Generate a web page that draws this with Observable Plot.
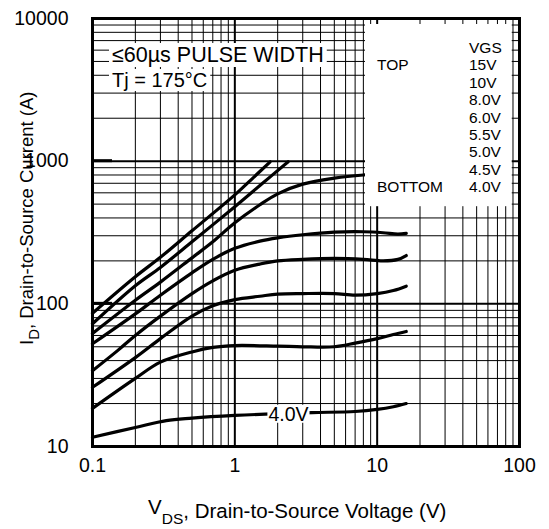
<!DOCTYPE html>
<html><head><meta charset="utf-8">
<script src="https://cdn.jsdelivr.net/npm/d3@7"></script>
<script src="https://cdn.jsdelivr.net/npm/@observablehq/plot@0.6"></script>
<style>
body{margin:0;background:#fff}
svg{font-family:"Liberation Sans",Arial,Helvetica,sans-serif}
</style>
</head><body><div id="chart"></div>
<script>
// ---- data ----
const vgsLabels = ["15V","10V","8.0V","6.0V","5.5V","5.0V","4.5V","4.0V"];
const vds_15V = [0.1,0.2,0.3,0.5,1,1.3,1.77];
const id_15V  = [86,155,212,325,580,740,990];
const vds_10V = [0.1,0.2,0.3,0.5,1,1.5,2.37];
const id_10V  = [72.5,134,180,272,480,675,990];
const vds_8V  = [0.1,0.2,0.3,0.5,0.7,1,1.5,2,3,5,8,16];
const id_8V   = [62,106,142,210,272,370,495,590,690,760,800,830];
const vds_6V  = [0.1,0.2,0.3,0.5,0.7,1,1.5,2,3,5,8,11,14,16];
const id_6V   = [52.5,85,115,165,205,245,275,290,305,318,320,315,308,312];
const vds_55V = [0.1,0.15,0.2,0.3,0.5,0.7,1,1.5,2,3,5,8,11,14,16];
const id_55V  = [34,47,60,82,118,145,172,190,200,205,208,205,200,205,218];
const vds_5V  = [0.1,0.2,0.3,0.5,0.7,1,1.5,2,3,5,7,10,13,16];
const id_5V   = [26,42,57,82,97,107,113,117,118,118,115,118,124,133];
const vds_45V = [0.1,0.2,0.3,0.5,0.7,1,2,3,5,7,10,13,16];
const id_45V  = [18.5,30,39,46,49.5,51,50.5,50,50,53,57,61,64];
const vds_4V  = [0.1,0.2,0.33,0.5,1,2,3.5,7,10,13,16];
const id_4V   = [11.6,13.6,15.2,15.8,16.5,17,17.3,17.6,18.2,19,20];

const xTicks = [0.1, 1, 10, 100];
const xTickLabels = ["0.1","1","10","100"];
const yTicks = [10, 100, 1000, 10000];
const yTickLabels = ["10","100","1000","10000"];
const curveLabel = "4.0V";
const curveLabelAt = [2.4, 17.1];

// ---- tables built from the arrays ----
const seriesList = [
  [vds_15V, id_15V],[vds_10V, id_10V],[vds_8V, id_8V],[vds_6V, id_6V],
  [vds_55V, id_55V],[vds_5V, id_5V],[vds_45V, id_45V],[vds_4V, id_4V]
];
const rows = seriesList.flatMap(([xs, ys], k) => xs.map((v, i) => ({vgs: vgsLabels[k], vds: v, id: ys[i]})));

const gridX = [], gridY = [];
for (const d of [0.1, 1, 10]) for (let m = 1; m < 10; m++) gridX.push(+(d*m).toPrecision(3));
gridX.push(100);
for (const d of [10, 100, 1000]) for (let m = 1; m < 10; m++) gridY.push(d*m);
gridY.push(10000);
const isMajor = v => Math.abs(Math.log10(v) - Math.round(Math.log10(v))) < 1e-9;

const chart = Plot.plot({
  width: 549, height: 529,
  marginLeft: 92, marginRight: 30, marginTop: 18, marginBottom: 83,
  x: {type: "log", domain: [0.1, 100], axis: null},
  y: {type: "log", domain: [10, 10000], axis: null},
  marks: [
    Plot.ruleX(gridX, {x: d => d, stroke: "#000", strokeWidth: d => isMajor(d) ? 2 : 1}),
    Plot.ruleY(gridY, {y: d => d, stroke: "#000", strokeWidth: d => isMajor(d) ? 2 : 1}),
    Plot.line(rows, {x: "vds", y: "id", z: "vgs", stroke: "#000", strokeWidth: 3.2, curve: "catmull-rom", strokeLinecap: "round"}),
    Plot.frame({stroke: "#000", strokeWidth: 3}),
    Plot.text(xTicks, {x: d => d, frameAnchor: "bottom", dy: 25, text: (d, i) => xTickLabels[i], fontSize: 19.5, fill: "#000"}),
    Plot.text(yTicks, {y: d => d, frameAnchor: "left", dx: -24, textAnchor: "end", text: (d, i) => yTickLabels[i], fontSize: 19.5, fill: "#000"})
  ]
});
document.getElementById("chart").appendChild(chart);

const svg = d3.select(chart);
const sx = chart.scale("x").apply, sy = chart.scale("y").apply;
const pLeft = sx(0.1), pRight = sx(100), pTop = sy(10000), pBottom = sy(10);

// inward major ticks on the left edge
svg.append("g").selectAll("line").data([100, 1000]).join("line")
  .attr("x1", pLeft).attr("x2", pLeft + 20).attr("y1", d => sy(d)).attr("y2", d => sy(d))
  .attr("stroke", "#000").attr("stroke-width", 3);

function boxed(g, pad) {
  const bb = g.node().getBBox();
  g.insert("rect", ":first-child")
    .attr("x", bb.x - pad[3]).attr("y", bb.y - pad[0])
    .attr("width", bb.width + pad[1] + pad[3]).attr("height", bb.height + pad[0] + pad[2])
    .attr("fill", "#fff");
}

// notes
const n1 = svg.append("g").attr("text-anchor", "start").attr("fill", "#000");
n1.append("text").attr("x", pLeft + 20).attr("y", pTop + 44).attr("font-size", 21.5).text("≤60µs PULSE WIDTH");
boxed(n1, [0, 3, 0, 3]);
const n2 = svg.append("g").attr("text-anchor", "start").attr("fill", "#000");
n2.append("text").attr("x", pLeft + 20).attr("y", pTop + 69).attr("font-size", 20).text("Tj = 175°C");
boxed(n2, [0, 3, 0, 3]);

// legend
const lg = svg.append("g").attr("font-size", 15.5).attr("text-anchor", "start").attr("fill", "#000");
const lx = pRight - 50, ly = pTop + 35, lh = 17.4;
lg.append("text").attr("x", lx).attr("y", ly).text("VGS");
vgsLabels.forEach((t, i) => lg.append("text").attr("x", lx).attr("y", ly + lh * (i + 1)).text(t));
lg.append("text").attr("x", pRight - 142).attr("y", ly + lh).text("TOP");
lg.append("text").attr("x", pRight - 142).attr("y", ly + lh * vgsLabels.length).text("BOTTOM");
boxed(lg, [15, 10, 11, 12]);

// curve label
const cl = svg.append("g").attr("fill", "#000");
cl.append("text").attr("x", sx(curveLabelAt[0])).attr("y", sy(curveLabelAt[1]) + 8)
  .attr("text-anchor", "middle").attr("font-size", 19.5).text(curveLabel);
boxed(cl, [-2, 1, -2, 1]);

// axis titles
const xt = svg.append("text").attr("text-anchor", "start").attr("fill", "#000")
  .attr("x", 148).attr("y", 518).attr("font-size", 20.5);
xt.append("tspan").attr("dy", -4).text("V");
xt.append("tspan").attr("dy", 10).attr("font-size", 15.5).text("DS");
xt.append("tspan").attr("dy", -6).text(", Drain-to-Source Voltage (V)");

const yt = svg.append("text").attr("text-anchor", "start").attr("fill", "#000")
  .attr("transform", "translate(33,345) rotate(-90)").attr("font-size", 18.5);
yt.append("tspan").text("I");
yt.append("tspan").attr("dy", 6).attr("font-size", 15).text("D");
yt.append("tspan").attr("dy", -6).text(", Drain-to-Source Current (A)");
</script>
</body></html>
